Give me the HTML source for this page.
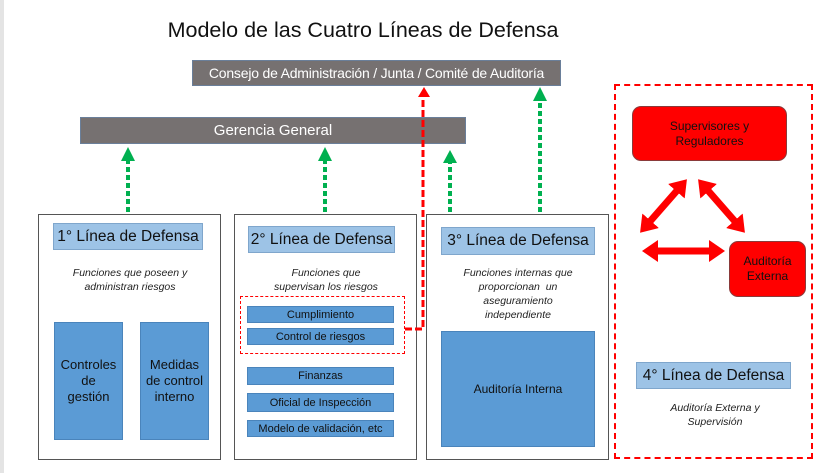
<!DOCTYPE html>
<html><head><style>
body{margin:0;width:838px;height:473px;background:#fff;position:relative;overflow:hidden;font-family:"Liberation Sans",sans-serif}
.a{position:absolute;box-sizing:border-box;display:flex;align-items:center;justify-content:center;text-align:center;white-space:nowrap}
.g{background:#767171;color:#fff;font-size:15px;border:1px solid #6a7f9a}
.box{border:1px solid #555;background:#fff}
.lb{background:#9dc3e6;border:1px solid #7fa6cc;font-size:15.5px;color:#111}
.b{background:#5b9bd5;border:1px solid #4a84bb;color:#111;font-size:11px}
.it{font-style:italic;font-size:10.5px;color:#222;line-height:14px}
.r{background:#f00;border:1px solid #8a3a3a;border-radius:9px;color:#111;font-size:12px;line-height:15px}
</style></head><body>
<div style="position:absolute;left:0;top:0;width:4px;height:473px;background:#e4e4e4"></div>
<div class="a" style="left:120px;top:14px;width:486px;height:32px;font-size:21.5px;color:#111">Modelo de las Cuatro Líneas de Defensa</div>
<div class="a g" style="left:192px;top:60px;width:369px;height:26px;font-size:14px;letter-spacing:-0.2px">Consejo de Administración / Junta / Comité de Auditoría</div>
<div class="a g" style="left:80px;top:117px;width:386px;height:27px">Gerencia General</div>

<div class="a box" style="left:38px;top:214px;width:183px;height:246px"></div>
<div class="a box" style="left:234px;top:214px;width:183px;height:246px"></div>
<div class="a box" style="left:426px;top:214px;width:183px;height:246px"></div>

<div class="a lb" style="left:53px;top:223px;width:150px;height:27px">1° Línea de Defensa</div>
<div class="a it" style="left:40px;top:265px;width:180px;height:30px">Funciones que poseen y<br>administran riesgos</div>
<div class="a b" style="left:54px;top:322px;width:69px;height:118px;font-size:13px;line-height:16px">Controles<br>de<br>gestión</div>
<div class="a b" style="left:140px;top:322px;width:69px;height:118px;font-size:13px;line-height:16px">Medidas<br>de control<br>interno</div>

<div class="a lb" style="left:248px;top:226px;width:147px;height:27px">2° Línea de Defensa</div>
<div class="a it" style="left:236px;top:265px;width:180px;height:30px">Funciones que<br>supervisan los riesgos</div>
<div class="a" style="left:240px;top:296px;width:165px;height:58px;border:1.5px dashed #f00"></div>
<div class="a b" style="left:247px;top:306px;width:147px;height:17px">Cumplimiento</div>
<div class="a b" style="left:247px;top:328px;width:147px;height:17px">Control de riesgos</div>
<div class="a b" style="left:247px;top:367px;width:147px;height:18px">Finanzas</div>
<div class="a b" style="left:247px;top:393px;width:147px;height:19px">Oficial de Inspección</div>
<div class="a b" style="left:247px;top:420px;width:147px;height:17px">Modelo de validación, etc</div>

<div class="a lb" style="left:441px;top:227px;width:154px;height:28px">3° Línea de Defensa</div>
<div class="a it" style="left:428px;top:266px;width:180px;height:56px">Funciones internas que<br>proporcionan &nbsp;un<br>aseguramiento<br>independiente</div>
<div class="a b" style="left:441px;top:331px;width:154px;height:116px;font-size:12px">Auditoría Interna</div>

<div class="a" style="left:614px;top:84px;width:199px;height:375px;border:2.5px dashed #f00"></div>
<div class="a r" style="left:632px;top:106px;width:155px;height:55px">Supervisores y<br>Reguladores</div>
<div class="a r" style="left:729px;top:241px;width:77px;height:56px">Auditoría<br>Externa</div>
<div class="a lb" style="left:636px;top:362px;width:155px;height:27px">4° Línea de Defensa</div>
<div class="a it" style="left:630px;top:400px;width:170px;height:30px">Auditoría Externa y<br>Supervisión</div>

<svg width="838" height="473" style="position:absolute;left:0;top:0">
<defs>
<marker id="rh" markerWidth="22" markerHeight="22" refX="7" refY="11" orient="auto-start-reverse" markerUnits="userSpaceOnUse"><path d="M0,0 L16,11 L0,22z" fill="#f00"/></marker>
</defs>
<g stroke="#00b050" stroke-width="4" stroke-dasharray="5,3">
<line x1="128" y1="212" x2="128" y2="160"/>
<line x1="325" y1="212" x2="325" y2="160"/>
<line x1="450" y1="212" x2="450" y2="162"/>
<line x1="540" y1="212" x2="540" y2="100"/>
</g>
<g fill="#00b050">
<path d="M121,161 L128,147 L135,161z"/>
<path d="M318,161 L325,147 L332,161z"/>
<path d="M443,163 L450,150 L457,163z"/>
<path d="M533,101 L540,87 L547,101z"/>
</g>
<polyline points="405,329 423,329 423,95" fill="none" stroke="#f00" stroke-width="3" stroke-dasharray="7,3"/>
<path d="M418,97 L424,87 L430,97z" fill="#f00"/>
<g stroke="#f00" stroke-width="7" fill="none">
<line x1="646" y1="226" x2="681" y2="186" marker-start="url(#rh)" marker-end="url(#rh)"/>
<line x1="704" y1="186" x2="739" y2="226" marker-start="url(#rh)" marker-end="url(#rh)"/>
<line x1="651" y1="251" x2="716" y2="251" marker-start="url(#rh)" marker-end="url(#rh)"/>
</g>
</svg>
</body></html>
